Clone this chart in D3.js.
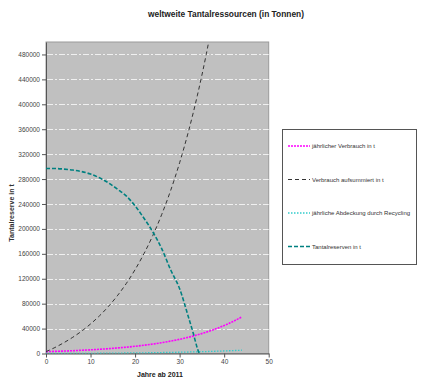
<!DOCTYPE html>
<html>
<head>
<meta http-equiv="Content-Type" content="text/html; charset=utf-8" />
<title>weltweite Tantalressourcen</title>
<script type="text/javascript" src="https://cdn.jsdelivr.net/npm/d3@7/dist/d3.min.js"></script>
<style>
body{margin:0;background:#fff;}
text{font-family:"Liberation Sans",Arial,sans-serif;}
</style>
</head>
<body>
<svg id="chart" width="423" height="385"></svg>
<script type="text/javascript">
// Jahre ab 2011 (gemeinsam für Verbrauch, Recycling)
var years = [0,2,4,6,8,10,12,14,16,18,20,22,24,26,28,30,32,34,36,38,40,42,44];
// jährlicher Verbrauch in t
var verbrauch = [3000,3400,3900,4500,5200,5900,6800,7700,8900,10100,11600,13300,15200,17400,19900,22800,26100,29900,34300,39200,44900,51400,58900];
// Verbrauch aufsummiert in t (läuft oben aus dem Bild)
var summeYears = [0,2,4,6,8,10,12,14,16,18,20,22,24,26,28,30,32,34,36,38];
var summe = [3000,9600,17300,26000,35900,47400,60400,75400,92500,112100,134600,160300,189700,223500,262000,306200,356800,414700,481000,556900];
// jährliche Abdeckung durch Recycling
var recycling = [0,50,100,150,250,300,400,500,650,800,950,1100,1300,1550,1800,2100,2400,2750,3150,3600,4100,4700,5300];
// Tantalreserven in t
var reserveYears = [0,2,4,6,8,10,12,14,16,18,20,22,24,26,28,30,32,33,34,34.4];
var reserven = [297000,297000,296000,294500,292000,288000,282000,274000,264000,253000,237000,217000,195000,168000,134000,104000,58000,34000,8000,0];
var yTicks = [0,40000,80000,120000,160000,200000,240000,280000,320000,360000,400000,440000,480000];
var xTicks = [0,10,20,30,40,50];

function draw(){
	var series = [
		{name:"jährlicher Verbrauch in t", x:years, y:verbrauch, color:"#ff00ff", width:1.6, dash:"2,1"},
		{name:"Verbrauch aufsummiert in t", x:summeYears, y:summe, color:"#333333", width:1, dash:"4,3"},
		{name:"jährliche Abdeckung durch Recycling", x:years, y:recycling, color:"#33cccc", width:1.3, dash:"1.5,1.5"},
		{name:"Tantalreserven in t", x:reserveYears, y:reserven, color:"#008080", width:1.6, dash:"4,2"}
	];

	var svg = d3.select("#chart");
	var pLeft = 46, pRight = 268.7, pTop = 42, pBottom = 353.5;
	var x = d3.scaleLinear().domain([0,50]).range([pLeft,pRight]);
	var y = d3.scaleLinear().domain([0,500000]).range([pBottom,pTop]);

	// Titel
	svg.append("text").attr("x",226).attr("y",17).attr("text-anchor","middle")
		.attr("textLength",156).attr("lengthAdjust","spacingAndGlyphs")
		.style("font-size","9px").style("font-weight","bold").style("fill","#222")
		.text("weltweite Tantalressourcen (in Tonnen)");

	// Plotfläche
	svg.append("rect").attr("x",pLeft).attr("y",pTop).attr("width",pRight-pLeft).attr("height",pBottom-pTop)
		.attr("fill","#c0c0c0").attr("stroke","#9a9a9a").attr("stroke-width",1);
	svg.append("defs").append("clipPath").attr("id","clip").append("rect")
		.attr("x",pLeft).attr("y",pTop).attr("width",pRight-pLeft).attr("height",pBottom-pTop);

	// Gitterlinien (Strich-Punkt, weiß)
	svg.append("g").selectAll("line").data(yTicks.filter(function(d){return d>0;})).enter().append("line")
		.attr("x1",pLeft+1).attr("x2",pRight)
		.attr("y1",function(d){return Math.round(y(d))+0.5;}).attr("y2",function(d){return Math.round(y(d))+0.5;})
		.attr("stroke","#f0f0f0").attr("stroke-width",1).attr("stroke-dasharray","6,2,2,2");

	// Achsen
	var yAxis = svg.append("g").attr("transform","translate("+pLeft+",0)")
		.call(d3.axisLeft(y).tickValues(yTicks).tickSize(4).tickPadding(2).tickSizeOuter(0).tickFormat(d3.format("d")));
	var xAxis = svg.append("g").attr("transform","translate(0,"+pBottom+")")
		.call(d3.axisBottom(x).tickValues(xTicks).tickSize(4).tickPadding(2).tickSizeOuter(0));
	[yAxis,xAxis].forEach(function(a){
		a.select(".domain").attr("stroke","#555");
		a.selectAll(".tick line").attr("stroke","#555");
		a.selectAll(".tick text").style("font-size","6.5px").style("fill","#444").style("font-family","Liberation Sans, Arial, sans-serif");
	});

	// Achsentitel
	svg.append("text").attr("transform","translate(14,213) rotate(-90)").attr("text-anchor","middle")
		.style("font-size","7px").style("font-weight","bold").style("fill","#333").text("Tantalreserve in t");
	svg.append("text").attr("x",160).attr("y",377).attr("text-anchor","middle")
		.style("font-size","7px").style("font-weight","bold").style("fill","#222").text("Jahre ab 2011");

	// Kurven
	var g_lines = svg.append("g").attr("clip-path","url(#clip)");
	series.forEach(function(s){
		var pts = s.x.map(function(d,i){return [d,s.y[i]];});
		var line = d3.line().x(function(d){return x(d[0]);}).y(function(d){return y(d[1]);}).curve(d3.curveMonotoneX);
		g_lines.append("path").attr("d",line(pts)).attr("fill","none")
			.attr("stroke",s.color).attr("stroke-width",s.width).attr("stroke-dasharray",s.dash);
	});

	// Legende
	var lg = svg.append("g");
	lg.append("rect").attr("x",282.5).attr("y",129.5).attr("width",134).attr("height",135)
		.attr("fill","#fff").attr("stroke","#555").attr("stroke-width",1);
	series.forEach(function(s,i){
		var ly = 146 + i*33.5;
		lg.append("line").attr("x1",288).attr("x2",310).attr("y1",ly).attr("y2",ly)
			.attr("stroke",s.color).attr("stroke-width",s.width).attr("stroke-dasharray",s.dash);
		lg.append("text").attr("x",312).attr("y",ly+2).style("font-size","6px").style("fill","#333").text(s.name);
	});
}
draw();
</script>
</body>
</html>
